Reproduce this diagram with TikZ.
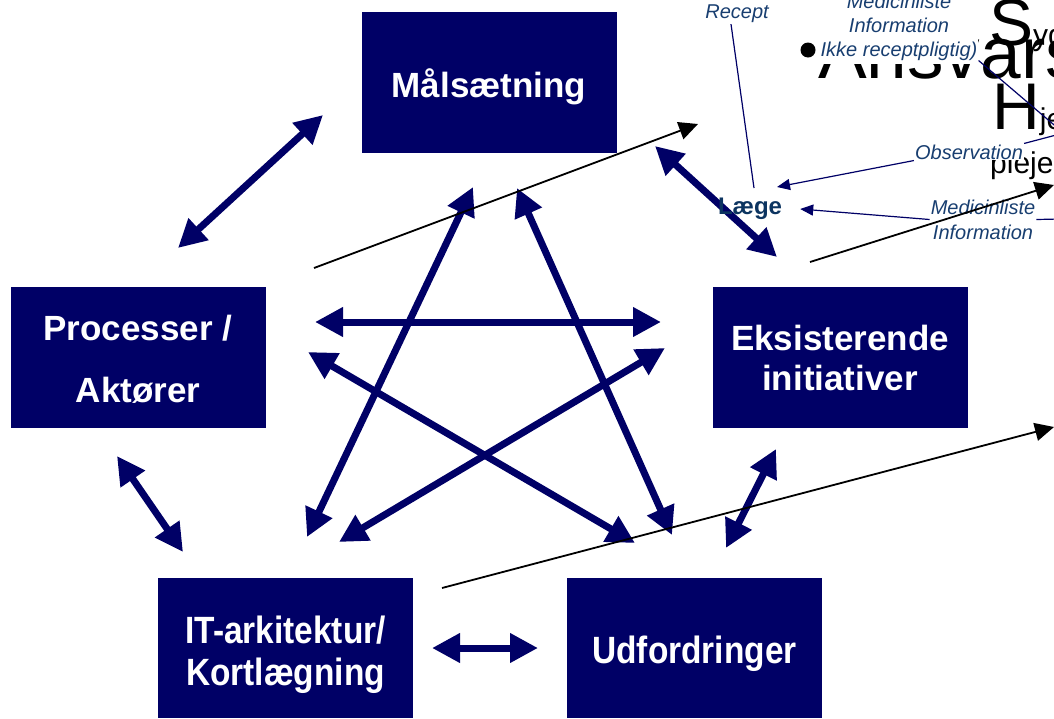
\documentclass[tikz,border=0pt]{standalone}
\usepackage{fontspec}
\setmainfont{Liberation Sans}
\newfontfamily\narrowsf[FakeStretch=0.88]{Liberation Sans}
\usetikzlibrary{arrows.meta}

\definecolor{navy}{RGB}{0,0,102}
\definecolor{labelblue}{RGB}{24,62,112}
\definecolor{laegeblue}{RGB}{12,52,96}

\tikzset{
  topicbox/.style={fill=navy, minimum width=255pt, minimum height=141pt, inner sep=0pt},
  topictext/.style={text=white, align=center, inner sep=0pt, font=\bfseries\fontsize{35}{40}\selectfont},
  narrowtext/.style={topictext, font=\narrowsf\bfseries\fontsize{38}{42}\selectfont},
  dblarrow/.style={line width=7pt, draw=navy,
    {Triangle[length=28pt,width=28pt]}-{Triangle[length=28pt,width=28pt]}},
  flowarrow/.style={line width=1.8pt, -{Triangle[length=19pt,width=18pt]}},
  notetext/.style={font=\itshape\fontsize{20}{24}\selectfont, text=labelblue, align=center, inner sep=1pt},
  noteline/.style={line width=1.2pt, draw=navy},
  notearrow/.style={noteline, -{Triangle[length=13pt,width=11pt]}},
  bigtxt/.style={anchor=base west, inner sep=0pt}
}

\begin{document}
\begin{tikzpicture}[x=1pt,y=-1pt]
\useasboundingbox (0,0) rectangle (1054,718);

% Half hidden text in the corner
\node[bigtxt, font=\fontsize{73}{73}\selectfont] (ansvar) at (818,78) {Ansvars};
\node[bigtxt, font=\fontsize{66}{66}\selectfont] (syg) at (989,45) {S{\fontsize{30}{30}\selectfont yg}};
\node[bigtxt, font=\fontsize{66}{66}\selectfont] (hje) at (992,129) {H{\fontsize{30}{30}\selectfont je}};
\node[bigtxt, font=\fontsize{30}{30}\selectfont] (pleje) at (990,173) {pleje};

% Boxes
\node[topicbox] (maal) at (489,82.5) {};
\node[topicbox] (proc) at (138,357.5) {};
\node[topicbox] (eksist) at (840,357.5) {};
\node[topicbox, minimum height=140pt] (itark) at (285.5,648) {};
\node[topicbox, minimum height=140pt] (udf) at (694.5,648) {};

\node[topictext] (maaltxt) at ([yshift=-4pt]maal.center) {Målsætning};
\node[topictext, font=\bfseries\fontsize{35}{62}\selectfont] (proctxt) at ([yshift=-2pt]proc.center) {Processer /\\Aktører};
\node[topictext] (eksisttxt) at (eksist.center) {Eksisterende\\initiativer};
\node[narrowtext] (itarktxt) at ([yshift=-7pt]itark.center) {IT-arkitektur/\\Kortlægning};
\node[narrowtext] (udftxt) at ([yshift=-6pt]udf.center) {Udfordringer};

% Arrow ends
\coordinate (pmA) at (178,248);  \coordinate (pmB) at (323,115);
\coordinate (peA) at (315,322);  \coordinate (peB) at (661,322);
\coordinate (puA) at (308,352);  \coordinate (puB) at (635,543);
\coordinate (piA) at (117,456);  \coordinate (piB) at (183,552);
\coordinate (miA) at (473,187);  \coordinate (miB) at (307,537);
\coordinate (muA) at (517,188);  \coordinate (muB) at (672,535);
\coordinate (meA) at (655,146);  \coordinate (meB) at (777,257);
\coordinate (eiA) at (665,348);  \coordinate (eiB) at (339,542);
\coordinate (euA) at (776,449);  \coordinate (euB) at (726,548);
\coordinate (iuA) at (432,648);  \coordinate (iuB) at (538,648);

% Double arrows between the boxes
\foreach \a in {pm, pe, pu, pi, mi, mu, me, ei, eu, iu} {
    \draw[dblarrow] (\a A) -- (\a B);
}

% Labels round Læge
\node[notetext, fill=white, inner ysep=4pt] (medtop) at (899,27) {Medicinliste\\Information\\Ikke receptpligtig)};
\node[circle, fill=black, inner sep=0pt, minimum size=15pt] (dot) at (808,50) {};
\node[notetext, fill=white] (obs) at (969,152) {Observation};
\node[notetext, font=\itshape\fontsize{20}{25}\selectfont] (medlow) at (983,219.5) {Medicinliste\\Information};
\node[notetext] (recept) at (737,14) {Recept};
\node[font=\bfseries\fontsize{24}{24}\selectfont, text=laegeblue, inner sep=0pt] (laege) at (750,209) {Læge};

\coordinate (rcEnd) at (754,188);
\coordinate (obsEnd) at (777,187);
\coordinate (medtopEnd) at (1060,130);
\coordinate (obsOut) at (1060,134);
\coordinate (medOut) at (1060,219);

\draw[noteline] ([xshift=-6pt]recept.south) -- (rcEnd);
\draw[notearrow] (obs.south west) -- (obsEnd);
\draw[notearrow] (medlow.west) -- ([xshift=18pt]laege.east);
\draw[noteline] ([yshift=4pt]medtop.south east) -- (medtopEnd);
\draw[noteline] (obs.north east) -- (obsOut);
\draw[noteline] (medlow.east) -- (medOut);

% Thin black arrows
\coordinate (fl1A) at (314,268);  \coordinate (fl1B) at (698,124);
\coordinate (fl2A) at (810,262);  \coordinate (fl2B) at (1054,185);
\coordinate (fl3A) at (442,588);  \coordinate (fl3B) at (1054,427);
\foreach \f in {fl1, fl2, fl3} {
    \draw[flowarrow] (\f A) -- (\f B);
}
\end{tikzpicture}
\end{document}
